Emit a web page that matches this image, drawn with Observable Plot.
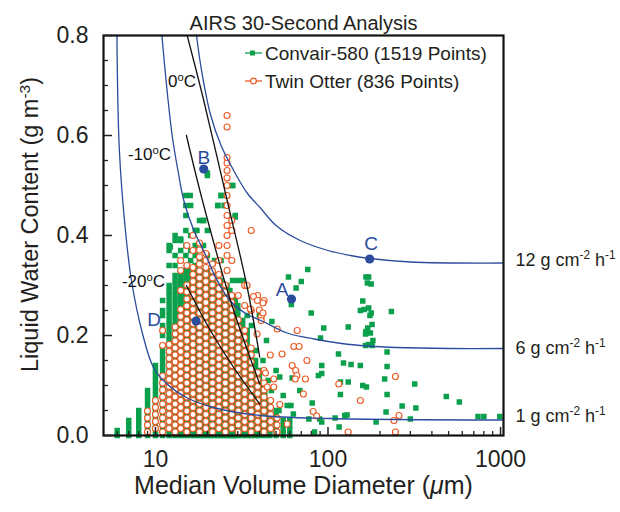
<!DOCTYPE html>
<html><head><meta charset="utf-8">
<script src="https://cdn.jsdelivr.net/npm/d3@7"></script>
<script src="https://cdn.jsdelivr.net/npm/@observablehq/plot@0.6"></script>
<style>html,body{margin:0;padding:0;background:#fff;}#chart svg{display:block;}</style>
</head><body><div id="chart"></div>
<script>
// ---------- DATA ----------
// Convair-580 dense columns: [MVD (µm), LWC values in units of 0.01 g m^-3]
const convairColumns = [
  [6,[0,1]],
  [7,[0,1,2,3]],
  [8,[0,1,2,3,4,5]],
  [9,[0,1,2,3,4,5,6,7,8,9]],
  [10,[0,1,2,3,4,5,6,7,8,9,10,11,12,13,14]],
  [11,[0,1,2,3,4,5,6,7,8,9,10,11,12,13,14,15,16,17,18,20,22,24,25,27]],
  [12,[0,1,2,3,4,5,6,7,8,9,10,11,12,13,14,15,16,17,18,19,20,21,22,23,24,25,26,27,28,29,30,34,37,38]],
  [13,[0,1,2,3,4,5,6,7,8,9,10,11,12,13,14,15,16,17,18,19,20,21,22,23,24,25,26,27,28,29,30,31,32,34,36,39,40]],
  [14,[0,1,2,3,4,5,6,7,8,9,10,11,12,13,14,15,16,17,18,19,20,21,22,23,24,25,26,27,28,29,30,31,32,33,35,37,39]],
  [15,[0,1,2,3,4,5,6,7,8,9,10,11,12,13,14,15,16,17,18,19,20,21,22,23,24,25,26,27,28,29,30,31,32,33,36,38,41,44,46,48]],
  [16,[0,1,2,3,4,5,6,7,8,9,10,11,12,13,14,15,16,17,18,19,20,21,22,23,24,25,26,27,28,29,30,31,32,33,35,37,40,46]],
  [17,[0,1,2,3,4,5,6,7,8,9,10,11,12,13,14,15,16,17,18,19,20,21,22,23,24,25,26,27,28,29,30,31,32,33,34,36,38,41]],
  [18,[0,1,2,3,4,5,6,7,8,9,10,11,12,13,14,15,16,17,18,19,20,21,22,23,24,25,26,27,28,29,30,31,32,33,35,37,43]],
  [19,[0,1,2,3,4,5,6,7,8,9,10,11,12,13,14,15,16,17,18,19,20,21,22,23,24,25,26,27,28,29,30,31,32,33,35,38,43]],
  [20,[0,1,2,3,4,5,6,7,8,9,10,11,12,13,14,15,16,17,18,19,20,21,22,23,24,25,26,27,28,29,30,31,32,33,36,41,52]],
  [21,[0,1,2,3,4,5,6,7,8,9,10,11,12,13,14,15,16,17,18,19,20,21,22,23,24,25,26,27,28,29,30,31,32]],
  [22,[0,1,2,3,4,5,6,7,8,9,10,11,12,13,14,15,16,17,18,19,20,21,22,23,24,25,26,27,28,29,30,31,32,35]],
  [23,[0,1,2,3,4,5,6,7,8,9,10,11,12,13,14,15,16,17,18,19,20,21,22,23,24,25,26,27,28,29,30,31,46]],
  [24,[0,1,2,3,4,5,6,7,8,9,10,11,12,13,14,15,16,17,18,19,20,21,22,23,24,25,26,27,28,29,30,31,35,48]],
  [25,[0,1,2,3,4,5,6,7,8,9,10,11,12,13,14,15,16,17,18,19,20,21,22,23,24,25,26,27,28,29,30,46]],
  [26,[0,1,2,3,4,5,6,7,8,9,10,11,12,13,14,15,16,17,18,19,20,21,22,23,24,25,26,27,28,29,30,33,36,48]],
  [27,[0,1,2,3,4,5,6,7,8,9,10,11,12,13,14,15,16,17,18,19,20,21,22,23,24,25,26,27,28,29]],
  [28,[0,1,2,3,4,5,6,7,8,9,10,11,12,13,14,15,16,17,18,19,20,21,22,23,24,25,26,27,28,31,50]],
  [29,[0,1,2,3,4,5,6,7,8,9,10,11,12,13,14,15,16,17,18,19,20,21,22,23,24,25,26,27,44]],
  [30,[0,1,2,3,4,5,6,7,8,9,10,11,12,13,14,15,16,17,18,19,20,21,22,23,24,25,26,31]],
  [32,[0,1,2,3,4,5,6,7,8,9,10,11,12,13,14,15,16,17,18,19,20,21,22,23,31]],
  [34,[0,1,2,3,4,5,6,7,8,9,10,11,12,13,14,15,16,17,18,19,20,21,24]],
  [36,[0,1,2,3,4,5,6,7,8,9,10,11,12,13,14,15,16,17,22]],
  [38,[0,1,2,3,4,5,6,7,8,9,10,11,12,13,14,15]],
  [40,[0,1,2,3,4,5,6,7,8,9,10,11,12,13,24]],
  [43,[0,1,2,3,4,5,6,7,8,9,10]],
  [46,[0,1,2,3,4,5,6,7]],
  [50,[0,1,2,3,4,5]],
  [55,[0,1,2,3]],
  [60,[0,1,2]]
];
// Scattered Convair points: [MVD, LWC g m^-3]
const convairScatter = [
  [76.3,.332],[59,.317],[70,.308],[65.3,.295],[61.3,.262],[79.9,.245],[47.3,.228],[94.5,.215],[90.5,.195],
  [131,.217],[233,.248],[166,.317],[172,.317],[169,.305],[178,.303],[159,.269],[154,.25],[162,.252],[172,.255],
  [178,.245],[175,.24],[180,.222],[170,.215],[166,.208],[165,.203],[176,.205],[182,.19],[172,.182],[165,.18],
  [180,.18],[220,.167],[115,.163],[123,.145],[136,.142],[154,.14],[92,.14],[88,.12],[92,.124],[52.5,.117],
  [62,.115],[213,.113],[220,.138],[118,.107],[131,.107],[159,.10],[167,.097],[318,.103],[68.6,.09],[118,.082],
  [220,.082],[485,.078],[577,.067],[81,.065],[61,.06],[63,.043],[269,.059],[323,.055],[217,.047],[129,.041],
  [125,.04],[110,.035],[77.5,.033],[89.5,.033],[92,.027],[190,.027],[300,.033],[740,.038],[800,.038],[990,.038],
  [116,.017],[83.5,.007],[20,.525],[28,.5],[15.9,.48],[24,.48],[23,.46],[25.4,.46],[29,.437],[19,.43],[17.4,.41],
  [14,.393],[12.2,.377],[55,.08],[58,.06],[52,.05],[60,.03],[47,.09],[45,.11],[50,.13],[38,.17],[42,.15],[44,.19]
];
// Twin Otter dense columns: [MVD (µm), LWC values in units of 0.001 g m^-3]
const otterColumns = [
  [9,[7,21,35,49]],
  [10,[14,28,42,56,70]],
  [11,[7,21,35,49,63,77,91,105,119,180,210]],
  [12,[14,28,42,56,70,84,98,112,126,140,154,168,182]],
  [13,[7,21,35,49,63,77,91,105,119,133,147,161,175,189,203,217]],
  [14,[14,28,42,56,70,84,98,112,126,140,154,168,182,196,210,224,238,252,290,330,350]],
  [15.2,[7,21,35,49,63,77,91,105,119,133,147,161,175,189,203,217,231,245,259,273,287,301,340,380]],
  [16.5,[14,28,42,56,70,84,98,112,126,140,154,168,182,196,210,224,238,252,266,280,294,308,322,336,370,400]],
  [18,[7,21,35,49,63,77,91,105,119,133,147,161,175,189,203,217,231,245,259,273,287,301,315,329,343,357,371,385]],
  [19.6,[14,28,42,56,70,84,98,112,126,140,154,168,182,196,210,224,238,252,266,280,294,308,322,336,350,364]],
  [21.4,[7,21,35,49,63,77,91,105,119,133,147,161,175,189,203,217,231,245,259,273,287,301,315,329,343]],
  [23.3,[14,28,42,56,70,84,98,112,126,140,154,168,182,196,210,224,238,252,266,280,294,308,322,350,380]],
  [25.4,[7,21,35,49,63,77,91,105,119,133,147,161,175,189,203,217,231,245,259,273,287,301]],
  [26,[330,360,380,400,420,440,460,480,500,515,530,545,556,617,640]],
  [27.7,[14,28,42,56,70,84,98,112,126,140,154,168,182,196,210,224,238,252,266,280,350,410,430]],
  [30.2,[7,21,35,49,63,77,91,105,119,133,147,161,175,189,203,217,231,280]],
  [32.9,[14,28,42,56,70,84,98,112,126,140,154,168,182,196,210,260,300]],
  [35.9,[7,21,35,49,63,77,91,105,119,133,147,161,175,250,410]],
  [39.1,[14,28,42,56,70,84,98,112,126,280]],
  [42.6,[7,21,35,49,63,77,91,105,130,270]],
  [46.5,[14,28,42,56,70]],
  [50.7,[7,21,35]]
];
// Scattered Twin Otter points: [MVD, LWC g m^-3]
const otterScatter = [
  [34,.30],[37,.278],[42,.265],[35.5,.253],[40,.251],[41,.237],[41,.23],[50.8,.213],[66.3,.21],[63.4,.178],
  [68,.178],[75.5,.15],[46.3,.161],[54.2,.163],[62,.14],[65,.13],[66,.12],[43.4,.125],[48.5,.113],[64.6,.113],
  [74,.113],[48.5,.097],[44.5,.097],[72,.083],[52.6,.062],[58,.023],[82,.048],[86,.039],[115.5,.103],[246,.118],
  [154,.07],[258,.04],[241,.03],[131,.007],[246,.007],[39,.27],[42,.245],[38.8,.203]
];
// Constant accretion-rate curves: [MVD, LWC]
const rate1Curve = [[5.98,.8],[6.18,.57],[6.7,.41],[7.26,.31],[8.41,.204],[9.74,.136],[11.58,.104],[15.12,.076],[21.7,.056],[40.6,.04],[103,.034],[1040,.031]];
const rate6Curve = [[10.9,.8],[11.6,.7],[12.5,.6],[13.5,.53],[14.6,.47],[16.7,.41],[19,.37],[22.8,.31],[27,.27],[33,.245],[42,.228],[58,.205],[83,.193],[120,.184],[170,.179],[250,.176],[500,.174],[1040,.174]];
const rate12Curve = [[17.3,.8],[18.5,.73],[20.8,.643],[24,.58],[28.4,.53],[34,.485],[40.6,.455],[50,.42],[69,.39],[100,.37],[135,.36],[175,.354],[300,.347],[1040,.345]];
const rateLabels = [["12 g cm^{-2} h^{-1}",1040,.35],["6 g cm^{-2} h^{-1}",1040,.174],["1 g cm^{-2} h^{-1}",1040,.038]];
// Temperature lines
const line0C = [[15.27,.8],[19.05,.67],[26.03,.47],[33.99,.297],[40.2,.157]];
const lineMinus10C = [[15.12,.60],[18.72,.47],[27.2,.27],[40.2,.103]];
const lineMinus20C = [[15.12,.30],[20.83,.21],[28.3,.137],[40.2,.063]];
const tempLabels = [["0^{o}C",14.24,.707],["-10^{o}C",9.23,.562],["-20^{o}C",8.52,.307]];
// Case points
const casePoints = [["A",61.4,.273],["B",19.05,.533],["C",174.4,.353],["D",17.2,.229]];
const caseLabels = [["A",54.2,.292],["B",19.05,.556],["C",178,.384],["D",9.83,.232]];
// Axis ticks
const xMajor = [10,100,1000];
const xMinor = [6,7,8,9,20,30,40,50,60,70,80,90,200,300,400,500,600,700,800,900];
const yMajor = [0,0.2,0.4,0.6,0.8];
const yMinor = [0.05,0.1,0.15,0.25,0.3,0.35,0.45,0.5,0.55,0.65,0.7,0.75];

// ---------- build tables ----------
const convair = [];
for (const [d, vals] of convairColumns) for (const v of vals) convair.push([d, v / 100]);
for (const p of convairScatter) convair.push(p);
const otter = [];
for (const [d, vals] of otterColumns) for (const v of vals) otter.push([d, v / 1000]);
for (const p of otterScatter) otter.push(p);

const GREEN = "#0aa04c", ORANGE = "#ec5a24", BLUE = "#2b4c9c", INK = "#231f20";
const X = d => d[0], Y = d => d[1];
const FONT = "'Liberation Sans', Arial, Helvetica, sans-serif";

const chart = Plot.plot({
  width: 620, height: 512,
  marginLeft: 103, marginRight: 117, marginTop: 35, marginBottom: 77,
  x: {type: "log", domain: [5, 1040]},
  y: {domain: [0, 0.8]},
  style: {fontFamily: FONT, color: INK, background: "#fff", overflow: "visible"},
  marks: [
    Plot.dot(convair, {x: X, y: Y, symbol: "square", r: 3.1, fill: GREEN, stroke: "none"}),
    Plot.dot(otter, {x: X, y: Y, r: 3.0, fill: "#fff", stroke: ORANGE, strokeWidth: 1.15}),
    Plot.line(rate1Curve, {x: X, y: Y, stroke: BLUE, strokeWidth: 1.3, curve: "catmull-rom"}),
    Plot.line(rate6Curve, {x: X, y: Y, stroke: BLUE, strokeWidth: 1.3, curve: "catmull-rom"}),
    Plot.line(rate12Curve, {x: X, y: Y, stroke: BLUE, strokeWidth: 1.3, curve: "catmull-rom"}),
    Plot.line(line0C, {x: X, y: Y, stroke: "#111", strokeWidth: 1.3, curve: "catmull-rom"}),
    Plot.line(lineMinus10C, {x: X, y: Y, stroke: "#111", strokeWidth: 1.3, curve: "catmull-rom"}),
    Plot.line(lineMinus20C, {x: X, y: Y, stroke: "#111", strokeWidth: 1.3, curve: "catmull-rom"}),
    Plot.dot(casePoints, {x: d => d[1], y: d => d[2], r: 4.6, fill: BLUE}),
    Plot.text(caseLabels, {x: d => d[1], y: d => d[2], text: d => d[0], fill: BLUE, fontSize: 19}),
    Plot.text(tempLabels, {x: d => d[1], y: d => d[2], text: d => d[0], fill: "#111", fontSize: 17}),
    Plot.text(rateLabels, {x: d => d[1], y: d => d[2], text: d => d[0], textAnchor: "start", dx: 12, fontSize: 18, fill: INK}),
    Plot.frame({stroke: "#111", strokeWidth: 2.2}),
    Plot.axisX(xMinor, {tickSize: -4, tickFormat: () => "", label: null, strokeWidth: 1.3}),
    Plot.axisX(xMajor, {tickSize: -8, tickPadding: 23, tickFormat: d => String(d), label: null, fontSize: 23, strokeWidth: 1.5}),
    Plot.axisY(yMinor, {tickSize: -5, tickFormat: () => "", label: null, strokeWidth: 1.3}),
    Plot.axisY(yMajor, {tickSize: -9, tickPadding: 24, tickFormat: d3.format(".1f"), label: null, fontSize: 23, strokeWidth: 1.5}),
    Plot.text(["AIRS 30-Second Analysis"], {frameAnchor: "top", dy: -20, fontSize: 20, fill: INK}),
    Plot.text(["Liquid Water Content (g m^{-3})"], {frameAnchor: "left", textAnchor: "middle", rotate: -90, dx: -73, dy: -11, fontSize: 23.5, fill: INK}),
    Plot.text(["Median Volume Diameter (~{μ}m)"], {frameAnchor: "bottom", textAnchor: "middle", dy: 58, fontSize: 25, fill: INK})
  ]
});

// Rich text: ^{..} -> superscript, ~{..} -> italic
function richText(svg) {
  for (const t of svg.querySelectorAll("text")) {
    if (t.querySelector("tspan")) continue;
    const s = t.textContent;
    if (!/[\^~]\{/.test(s)) continue;
    t.textContent = "";
    const re = /([\^~])\{([^}]*)\}/g;
    let last = 0, m;
    while ((m = re.exec(s))) {
      if (m.index > last) t.appendChild(document.createTextNode(s.slice(last, m.index)));
      const ts = document.createElementNS("http://www.w3.org/2000/svg", "tspan");
      ts.textContent = m[2];
      if (m[1] === "^") { ts.setAttribute("baseline-shift", "super"); ts.setAttribute("font-size", "0.66em"); }
      else ts.setAttribute("font-style", "italic");
      t.appendChild(ts);
      last = re.lastIndex;
    }
    if (last < s.length) t.appendChild(document.createTextNode(s.slice(last)));
  }
}
richText(chart);

// Legend
const svg = d3.select(chart);
const lg = svg.append("g").attr("font-family", FONT).attr("font-size", 19).attr("fill", INK).attr("text-anchor", "start");
const legendItems = [["Convair-580 (1519 Points)", "square", GREEN], ["Twin Otter (836 Points)", "circle", ORANGE]];
legendItems.forEach(([label, kind, color], i) => {
  const y = 53 + i * 28;
  lg.append("line").attr("x1", 245).attr("x2", 262).attr("y1", y).attr("y2", y).attr("stroke", color).attr("stroke-width", 1.3);
  if (kind === "square") lg.append("rect").attr("x", 250).attr("y", y - 2.5).attr("width", 5).attr("height", 5).attr("fill", color);
  else lg.append("circle").attr("cx", 253.5).attr("cy", y).attr("r", 2.8).attr("fill", "#fff").attr("stroke", color).attr("stroke-width", 1.2);
  lg.append("text").attr("x", 265).attr("y", y).attr("dy", "0.35em").attr("text-anchor", "start").text(label);
});

document.getElementById("chart").appendChild(chart);
</script>
</body></html>
